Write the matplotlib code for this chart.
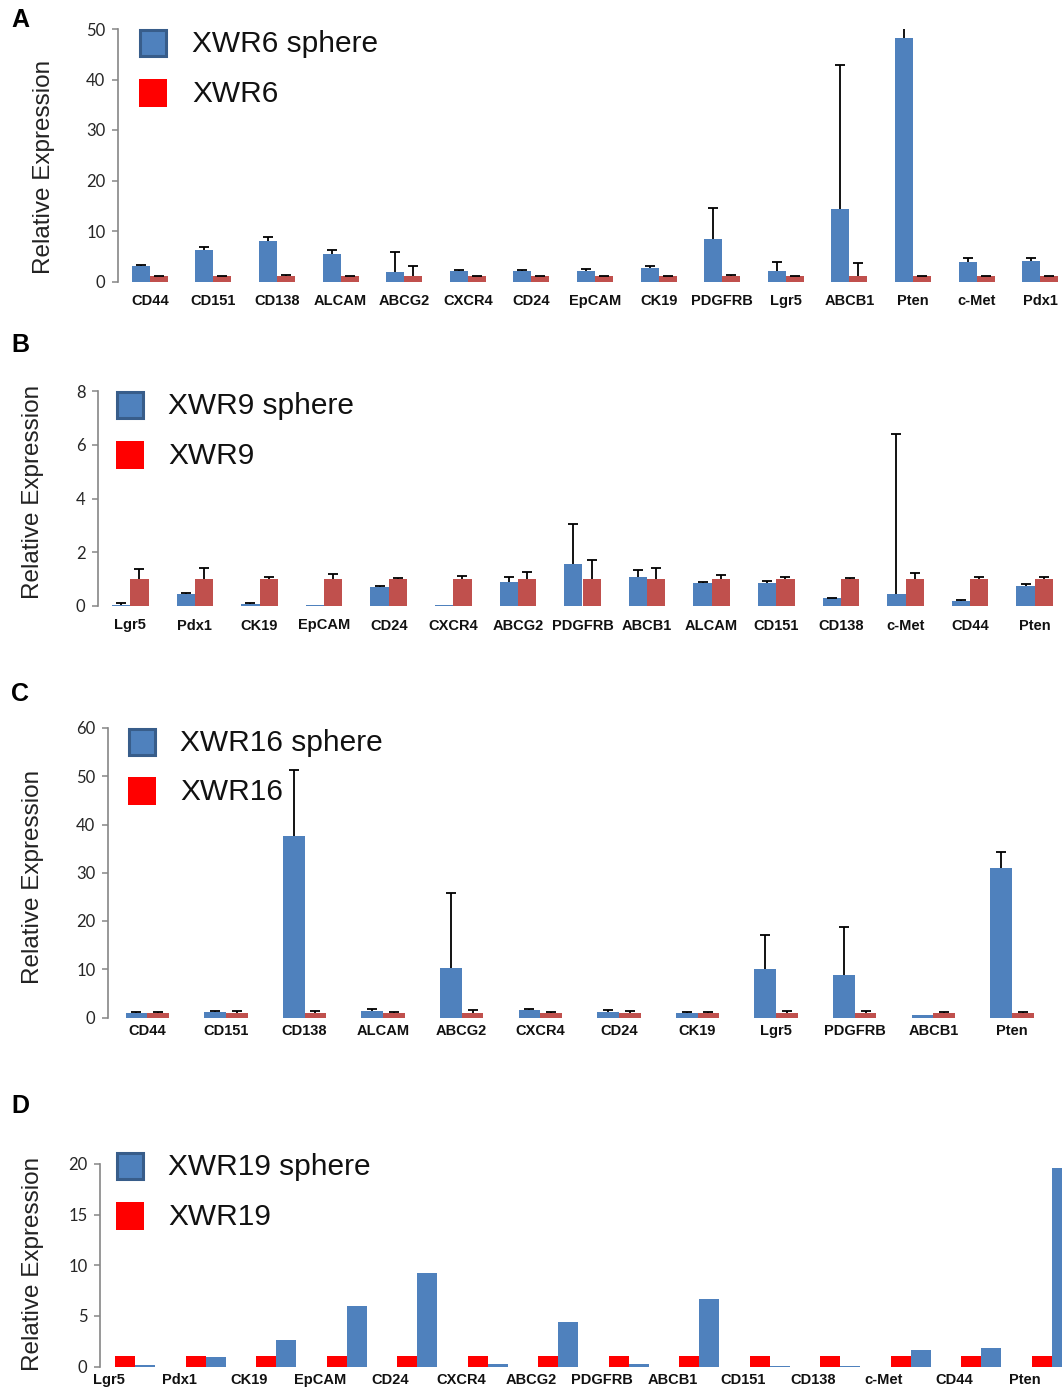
import numpy as np
import matplotlib
matplotlib.use("Agg")
import matplotlib.pyplot as plt
from matplotlib.patches import Rectangle

W, H = 1062, 1393

# ---------------- data ----------------
A_genes = ['CD44', 'CD151', 'CD138', 'ALCAM', 'ABCG2', 'CXCR4', 'CD24', 'EpCAM',
           'CK19', 'PDGFRB', 'Lgr5', 'ABCB1', 'Pten', 'c-Met', 'Pdx1']
A_sphere = [3.0, 6.3, 8.0, 5.4, 1.8, 2.0, 2.0, 2.1, 2.7, 8.5, 2.1, 14.3, 48.3, 3.8, 4.0]
A_sphere_err = [0.3, 0.5, 0.8, 0.9, 4.0, 0.2, 0.2, 0.3, 0.3, 6.0, 1.7, 28.6, 2.5, 0.8, 0.6]
A_parent = [1.0] * 15
A_parent_err = [0.1, 0.1, 0.25, 0.1, 2.0, 0.1, 0.1, 0.1, 0.1, 0.3, 0.1, 2.6, 0.1, 0.1, 0.1]

B_genes = ['Lgr5', 'Pdx1', 'CK19', 'EpCAM', 'CD24', 'CXCR4', 'ABCG2', 'PDGFRB',
           'ABCB1', 'ALCAM', 'CD151', 'CD138', 'c-Met', 'CD44', 'Pten']
B_sphere = [0.02, 0.43, 0.07, 0.02, 0.70, 0.04, 0.88, 1.56, 1.09, 0.84, 0.86, 0.29, 0.43, 0.19, 0.74]
B_sphere_err = [0.08, 0.07, 0.04, 0.0, 0.06, 0.0, 0.19, 1.50, 0.24, 0.05, 0.07, 0.02, 5.97, 0.02, 0.09]
B_parent = [1.0] * 15
B_parent_err = [0.38, 0.40, 0.07, 0.18, 0.03, 0.13, 0.27, 0.71, 0.41, 0.15, 0.07, 0.03, 0.24, 0.07, 0.07]

C_genes = ['CD44', 'CD151', 'CD138', 'ALCAM', 'ABCG2', 'CXCR4', 'CD24', 'CK19',
           'Lgr5', 'PDGFRB', 'ABCB1', 'Pten']
C_sphere = [1.0, 1.1, 37.6, 1.4, 10.3, 1.5, 1.1, 1.0, 10.0, 8.8, 0.5, 30.9]
C_sphere_err = [0.15, 0.2, 13.7, 0.45, 15.6, 0.3, 0.4, 0.15, 7.0, 9.9, 0.0, 3.4]
C_parent = [1.0] * 12
C_parent_err = [0.15, 0.45, 0.3, 0.1, 0.6, 0.17, 0.3, 0.17, 0.3, 0.4, 0.1, 0.1]

D_genes = ['Lgr5', 'Pdx1', 'CK19', 'EpCAM', 'CD24', 'CXCR4', 'ABCG2', 'PDGFRB',
           'ABCB1', 'CD151', 'CD138', 'c-Met', 'CD44', 'Pten']
D_parent = [1.0] * 14
D_sphere = [0.1, 0.9, 2.6, 6.0, 9.2, 0.2, 4.4, 0.2, 6.7, 0.07, 0.07, 1.6, 1.8, 19.6]

A_ticks = [0, 10, 20, 30, 40, 50]
B_ticks = [0, 2, 4, 6, 8]
C_ticks = [0, 10, 20, 30, 40, 50, 60]
D_ticks = [0, 5, 10, 15, 20]

# ---------------- style ----------------
BLUE = '#4F81BD'
BLUE_EDGE = '#385D8A'
DRED = '#C0504D'
RED = '#FF0000'
AXIS_GRAY = '#868686'

fig = plt.figure(figsize=(W / 100, H / 100), dpi=100)
fig.patch.set_facecolor('white')


def make_ax(left, right, top, bottom):
    return fig.add_axes([left / W, 1 - bottom / H, (right - left) / W, (bottom - top) / H])


def style_ax(ax, ticks, n, pad):
    ax.set_xlim(-0.5, n - 0.5)
    ax.set_ylim(ticks[0], ticks[-1])
    for s in ['top', 'right', 'bottom']:
        ax.spines[s].set_visible(False)
    ax.spines['left'].set_color(AXIS_GRAY)
    ax.spines['left'].set_linewidth(1.2)
    ax.set_yticks(ticks)
    ax.set_yticklabels([str(t) for t in ticks], fontfamily='Lato', fontsize=12, color='#262626')
    ax.tick_params(axis='y', direction='out', length=4, width=1.1, color=AXIS_GRAY, pad=5)
    ax.tick_params(axis='x', length=0, pad=pad)
    ax.set_facecolor('none')


def err_bars(ax, x, y, e):
    x = np.asarray(x, float); y = np.asarray(y, float); e = np.asarray(e, float)
    m = e > 0
    ax.errorbar(x[m], y[m], yerr=[np.zeros(m.sum()), e[m]], fmt='none',
                ecolor='black', elinewidth=1.3, capsize=0, zorder=3)
    ax.plot(x[m], y[m] + e[m], linestyle='none', marker='_', markersize=7.5,
            markeredgewidth=1.3, color='black', zorder=3)


def legend(sq_left, blue_top, red_top, text_x, label1, label2):
    s = 28
    fig.add_artist(Rectangle(((sq_left + 1) / W, 1 - (blue_top + s - 1) / H), (s - 2) / W, (s - 2) / H,
                             transform=fig.transFigure, facecolor=BLUE, edgecolor=BLUE_EDGE, linewidth=2.2))
    fig.add_artist(Rectangle((sq_left / W, 1 - (red_top + s) / H), s / W, s / H,
                             transform=fig.transFigure, facecolor=RED, edgecolor='none'))
    fig.text(text_x / W, 1 - (blue_top + s / 2 + 1) / H, label1, fontsize=21.5,
             family='Liberation Sans', va='center', ha='left', color='#111111')
    fig.text(text_x / W, 1 - (red_top + s / 2 + 1) / H, label2, fontsize=21.5,
             family='Liberation Sans', va='center', ha='left', color='#111111')


def ylabel(x, y):
    fig.text(x / W, 1 - y / H, 'Relative Expression', rotation=90, fontsize=17.5,
             family='Liberation Sans', va='center', ha='center', color='#222222')


def panel_letter(x, y, s):
    fig.text(x / W, 1 - y / H, s, fontsize=18, fontweight='bold',
             family='Liberation Sans', va='center', ha='center', color='black')


def xlabels(ax, genes, shift=0.0):
    x = np.arange(len(genes))
    ax.set_xticks(x + shift)
    ax.set_xticklabels(genes, fontsize=10.5, fontweight='bold', family='Liberation Sans', color='#111111')


# ---------------- Panel A ----------------
bw = 0.284
axA = make_ax(118, 118 + 15 * 63.6, 29, 281.5)
x = np.arange(len(A_genes))
axA.bar(x - bw / 2, A_sphere, bw, color=BLUE, zorder=2)
axA.bar(x + bw / 2, A_parent, bw, color=DRED, zorder=2)
err_bars(axA, x - bw / 2, A_sphere, A_sphere_err)
err_bars(axA, x + bw / 2, A_parent, A_parent_err)
style_ax(axA, A_ticks, len(A_genes), pad=9)
xlabels(axA, A_genes)
legend(139, 29, 79, 192, 'XWR6 sphere', 'XWR6')
ylabel(44, 167)
panel_letter(20, 20, 'A')

# ---------------- Panel B ----------------
axB = make_ax(98, 98 + 15 * 64.6, 391, 606)
x = np.arange(len(B_genes))
axB.bar(x - bw / 2, B_sphere, bw, color=BLUE, zorder=2)
axB.bar(x + bw / 2, B_parent, bw, color=DRED, zorder=2)
err_bars(axB, x - bw / 2, B_sphere, B_sphere_err)
err_bars(axB, x + bw / 2, B_parent, B_parent_err)
style_ax(axB, B_ticks, len(B_genes), pad=9)
xlabels(axB, B_genes)
legend(116, 391, 441, 168, 'XWR9 sphere', 'XWR9')
ylabel(33, 492)
panel_letter(20, 345, 'B')

# ---------------- Panel C ----------------
bwc = 0.275
axC = make_ax(108, 108 + 12 * 78.6, 728, 1017.5)
x = np.arange(len(C_genes))
axC.bar(x - bwc / 2, C_sphere, bwc, color=BLUE, zorder=2)
axC.bar(x + bwc / 2, C_parent, bwc, color=DRED, zorder=2)
err_bars(axC, x - bwc / 2, C_sphere, C_sphere_err)
err_bars(axC, x + bwc / 2, C_parent, C_parent_err)
style_ax(axC, C_ticks, len(C_genes), pad=5)
xlabels(axC, C_genes)
legend(128, 728, 777, 180, 'XWR16 sphere', 'XWR16')
ylabel(33, 877)
panel_letter(20, 694, 'C')

# ---------------- Panel D ----------------
axD = make_ax(100, 100 + 14 * 70.5, 1164, 1366.5)
x = np.arange(len(D_genes))
axD.bar(x - bw / 2, D_parent, bw, color=RED, zorder=2)
axD.bar(x + bw / 2, D_sphere, bw, color=BLUE, zorder=2)
style_ax(axD, D_ticks, len(D_genes), pad=5)
xlabels(axD, D_genes, shift=-0.38)
legend(116, 1152, 1202, 168, 'XWR19 sphere', 'XWR19')
ylabel(33, 1264)
panel_letter(20, 1106, 'D')

fig.savefig('out.png', dpi=100, facecolor='white')
